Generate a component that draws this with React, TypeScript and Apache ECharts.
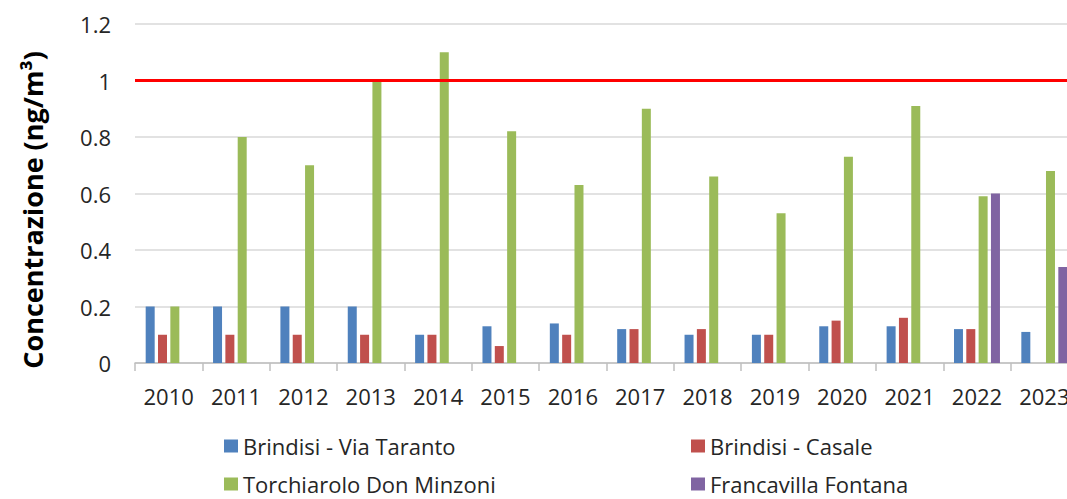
import React, { useEffect, useRef } from "react";
import * as echarts from "echarts";

const years = ["2010", "2011", "2012", "2013", "2014", "2015", "2016", "2017", "2018", "2019", "2020", "2021", "2022", "2023"];
const viaTaranto = [0.2, 0.2, 0.2, 0.2, 0.1, 0.13, 0.14, 0.12, 0.1, 0.1, 0.13, 0.13, 0.12, 0.11];
const casale = [0.1, 0.1, 0.1, 0.1, 0.1, 0.06, 0.1, 0.12, 0.12, 0.1, 0.15, 0.16, 0.12, null];
const torchiarolo = [0.2, 0.8, 0.7, 1.0, 1.1, 0.82, 0.63, 0.9, 0.66, 0.53, 0.73, 0.91, 0.59, 0.68];
const francavilla = [null, null, null, null, null, null, null, null, null, null, null, null, 0.6, 0.34];
const limitValue = 1;

const seriesNames = ["Brindisi - Via Taranto", "Brindisi - Casale", "Torchiarolo Don Minzoni", "Francavilla Fontana"];
const colors = ["#4F81BD", "#C0504D", "#9BBB59", "#8064A2"];

const FONT = "'Open Sans', sans-serif";
const TEXT = "#262626";

export default function App() {
  const ref = useRef<HTMLDivElement>(null);
  useEffect(() => {
    document.body.style.margin = "0";
    document.body.style.overflow = "hidden";
    const chart = echarts.init(ref.current!, null, { renderer: "svg" });
    const datas = [viaTaranto, casale, torchiarolo, francavilla];
    const legendPos = [
      { left: 224, top: 435 },
      { left: 691, top: 435 },
      { left: 224, top: 473 },
      { left: 691, top: 473 },
    ];
    chart.setOption({
      animation: false,
      backgroundColor: "#ffffff",
      grid: { left: 135, right: 0, top: 24, bottom: 136 },
      legend: seriesNames.map((n, i) => ({
        data: [n],
        left: legendPos[i].left,
        top: legendPos[i].top,
        padding: 0,
        itemWidth: 14,
        itemHeight: 13,
        icon: "rect",
        selectedMode: false,
        textStyle: { fontFamily: FONT, fontSize: 22, color: TEXT },
      })),
      xAxis: {
        type: "category",
        data: years,
        axisLine: { lineStyle: { color: "#BFBFBF", width: 1.5 } },
        axisTick: { show: true, length: 8, lineStyle: { color: "#BFBFBF", width: 1.5 } },
        axisLabel: { fontFamily: FONT, fontSize: 22, color: TEXT, margin: 22, interval: 0 },
      },
      yAxis: {
        type: "value",
        min: 0,
        max: 1.2,
        interval: 0.2,
        axisLine: { show: false },
        axisTick: { show: false },
        splitLine: { lineStyle: { color: "#D9D9D9", width: 1.5 } },
        axisLabel: {
          fontFamily: FONT,
          fontSize: 22,
          color: TEXT,
          margin: 24,
          formatter: (v: number) => String(Math.round(v * 10) / 10),
        },
      },
      graphic: [
        {
          type: "text",
          x: 32,
          y: 210,
          rotation: Math.PI / 2,
          style: {
            text: "Concentrazione (ng/m³)",
            fontFamily: FONT,
            fontSize: 27,
            fontWeight: "bold",
            fill: "#000",
            textAlign: "center",
            textVerticalAlign: "middle",
          },
        },
      ],
      series: seriesNames.map((n, i) => ({
        name: n,
        type: "bar",
        data: datas[i],
        barWidth: 9,
        barGap: "37%",
        itemStyle: { color: colors[i] },
        ...(i === 0
          ? {
              markLine: {
                silent: true,
                symbol: ["none", "none"],
                label: { show: false },
                lineStyle: { color: "#FF0000", width: 3, type: "solid" },
                data: [{ yAxis: limitValue }],
              },
            }
          : {}),
      })),
    });
    return () => chart.dispose();
  }, []);
  return <div ref={ref} style={{ width: 1078, height: 499 }} />;
}
